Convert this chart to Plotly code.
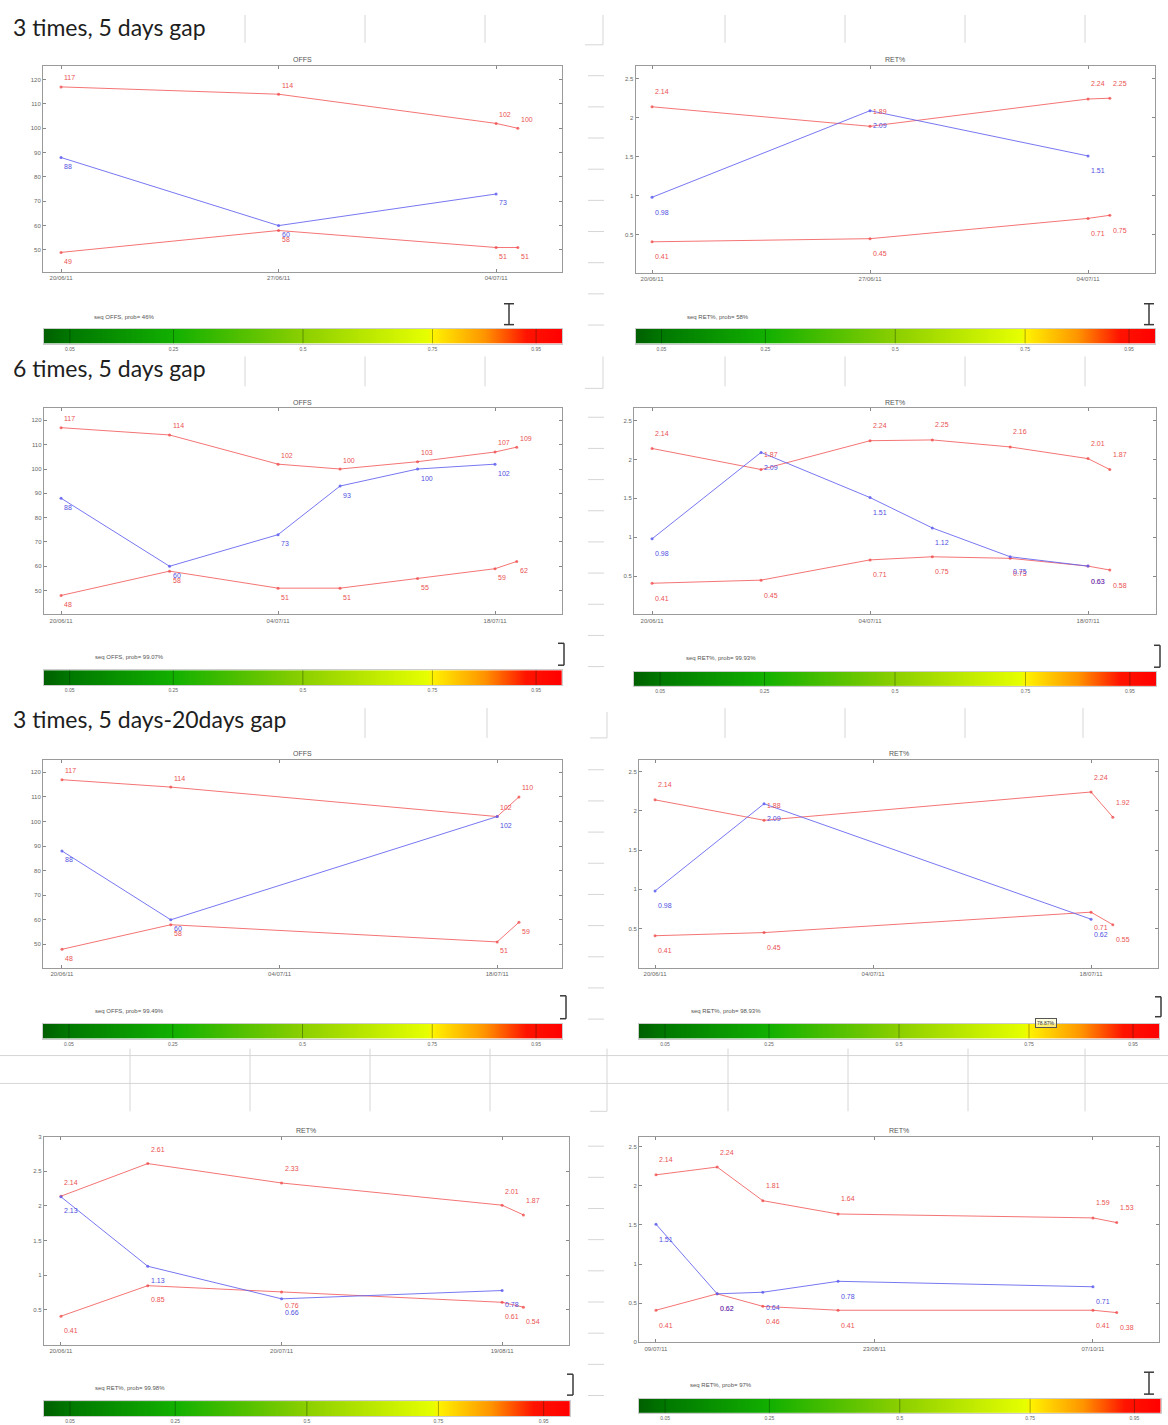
import plotly.graph_objects as go

W, H = 1168, 1425

# ---------------- data ----------------
# Row 1 : 3 times, 5 days gap
r1_days = [0, 7, 14]
r1_pred_days = [0, 7, 14, 14.7]
r1_ticks = [0, 7, 14]
r1_dates = ["20/06/11", "27/06/11", "04/07/11"]
r1_offs_obs = [88, 60, 73]
r1_offs_up = [117, 114, 102, 100]
r1_offs_lo = [49, 58, 51, 51]
r1_ret_obs = [0.98, 2.09, 1.51]
r1_ret_up = [2.14, 1.89, 2.24, 2.25]
r1_ret_lo = [0.41, 0.45, 0.71, 0.75]

# Row 2 : 6 times, 5 days gap
r2_days = [0, 7, 14, 18, 23, 28]
r2_pred_days = [0, 7, 14, 18, 23, 28, 29.4]
r2_ticks = [0, 14, 28]
r2_dates = ["20/06/11", "04/07/11", "18/07/11"]
r2_offs_obs = [88, 60, 73, 93, 100, 102]
r2_offs_up = [117, 114, 102, 100, 103, 107, 109]
r2_offs_lo = [48, 58, 51, 51, 55, 59, 62]
r2_ret_obs = [0.98, 2.09, 1.51, 1.12, 0.75, 0.63]
r2_ret_up = [2.14, 1.87, 2.24, 2.25, 2.16, 2.01, 1.87]
r2_ret_lo = [0.41, 0.45, 0.71, 0.75, 0.73, 0.63, 0.58]

# Row 3 : 3 times, 5 days-20days gap
r3_days = [0, 7, 28]
r3_pred_days = [0, 7, 28, 29.4]
r3_ticks = [0, 14, 28]
r3_dates = ["20/06/11", "04/07/11", "18/07/11"]
r3_offs_obs = [88, 60, 102]
r3_offs_up = [117, 114, 102, 110]
r3_offs_lo = [48, 58, 51, 59]
r3_ret_obs = [0.98, 2.09, 0.62]
r3_ret_up = [2.14, 1.88, 2.24, 1.92]
r3_ret_lo = [0.41, 0.45, 0.71, 0.55]

# Row 4 : RET% only, two sequences
r4a_days = [0, 11.8, 30, 60]
r4a_pred_days = [0, 11.8, 30, 60, 62.9]
r4a_ticks = [0, 30, 60]
r4a_dates = ["20/06/11", "20/07/11", "19/08/11"]
r4a_ret_obs = [2.13, 1.13, 0.66, 0.78]
r4a_ret_up = [2.14, 2.61, 2.33, 2.01, 1.87]
r4a_ret_lo = [0.41, 0.85, 0.76, 0.61, 0.54]

r4b_days = [0, 12.6, 22, 37.5, 90]
r4b_pred_days = [0, 12.6, 22, 37.5, 90, 94.9]
r4b_ticks = [0, 45, 90]
r4b_dates = ["09/07/11", "23/08/11", "07/10/11"]
r4b_ret_obs = [1.51, 0.62, 0.64, 0.78, 0.71]
r4b_ret_up = [2.14, 2.24, 1.81, 1.64, 1.59, 1.53]
r4b_ret_lo = [0.41, 0.62, 0.46, 0.41, 0.41, 0.38]

offs_yticks = [50, 60, 70, 80, 90, 100, 110, 120]
ret_yticks = [0.5, 1, 1.5, 2, 2.5]
ret_yticks_a = [0.5, 1, 1.5, 2, 2.5, 3]
ret_yticks_b = [0, 0.5, 1, 1.5, 2, 2.5]

cbar_ticks = [0.05, 0.25, 0.5, 0.75, 0.95]
cbar_ticktext = ["0.05", "0.25", "0.5", "0.75", "0.95"]
cbar_z = [0, 1]

headings = ["3 times, 5 days gap", "6 times, 5 days gap", "3 times, 5 days-20days gap"]
cbar_labels = ["seq OFFS, prob= 46%", "seq RET%, prob= 58%",
               "seq OFFS, prob= 99.07%", "seq RET%, prob= 99.93%",
               "seq OFFS, prob= 99.49%", "seq RET%, prob= 98.93%",
               "seq RET%, prob= 99.98%", "seq RET%, prob= 97%"]

# ---------------- panel layout (pixels) ----------------
panels = [
    dict(title="OFFS", days=r1_days, pdays=r1_pred_days, obs=r1_offs_obs, up=r1_offs_up, lo=r1_offs_lo,
         xt=r1_ticks, xl=r1_dates, yt=offs_yticks, fmt="{:.0f}", off=9,
         box=(43, 562, 63, 270), xr=[-0.58, 16.12], yr=[41, 125.7],
         cb=(44, 562, 327, 342), cbl=(92, 315), mark=("I", 509, 302, 323)),
    dict(title="RET%", days=r1_days, pdays=r1_pred_days, obs=r1_ret_obs, up=r1_ret_up, lo=r1_ret_lo,
         xt=r1_ticks, xl=r1_dates, yt=ret_yticks, fmt="{:.2f}", off=15,
         box=(635.5, 1155, 63, 270.7), xr=[-0.53, 16.15], yr=[0.016, 2.666],
         cb=(635.5, 1155, 327, 342), cbl=(685, 315), mark=("I", 1149, 302, 323)),
    dict(title="OFFS", days=r2_days, pdays=r2_pred_days, obs=r2_offs_obs, up=r2_offs_up, lo=r2_offs_lo,
         xt=r2_ticks, xl=r2_dates, yt=offs_yticks, fmt="{:.0f}", off=9,
         box=(43.7, 562, 406.7, 614), xr=[-1.12, 32.32], yr=[40.2, 125.1],
         cb=(43.7, 562, 670, 685), cbl=(92.5, 657), mark=("]", 564, 643, 665)),
    dict(title="RET%", days=r2_days, pdays=r2_pred_days, obs=r2_ret_obs, up=r2_ret_up, lo=r2_ret_lo,
         xt=r2_ticks, xl=r2_dates, yt=ret_yticks, fmt="{:.2f}", off=15,
         box=(634, 1155.6, 406.7, 614), xr=[-1.16, 32.34], yr=[0.01, 2.66],
         cb=(634, 1156, 671.7, 686), cbl=(684, 658), mark=("]", 1160, 645, 667)),
    dict(title="OFFS", days=r3_days, pdays=r3_pred_days, obs=r3_offs_obs, up=r3_offs_up, lo=r3_offs_lo,
         xt=r3_ticks, xl=r3_dates, yt=offs_yticks, fmt="{:.0f}", off=9,
         box=(43, 562, 760, 969.3), xr=[-1.22, 32.17], yr=[40.3, 125.1],
         cb=(43, 562, 1025, 1040), cbl=(93, 1012), mark=("]", 566, 997, 1020)),
    dict(title="RET%", days=r3_days, pdays=r3_pred_days, obs=r3_ret_obs, up=r3_ret_up, lo=r3_ret_lo,
         xt=r3_ticks, xl=r3_dates, yt=ret_yticks, fmt="{:.2f}", off=15,
         box=(639, 1158, 760, 969), xr=[-1.03, 32.3], yr=[0, 2.65],
         cb=(639, 1159, 1025, 1040), cbl=(689, 1012), mark=("]", 1161, 998, 1018)),
    dict(title="RET%", days=r4a_days, pdays=r4a_pred_days, obs=r4a_ret_obs, up=r4a_ret_up, lo=r4a_ret_lo,
         xt=r4a_ticks, xl=r4a_dates, yt=ret_yticks_a, fmt="{:.2f}", off=14,
         box=(43.7, 569, 1138.3, 1347.3), xr=[-2.35, 69.1], yr=[0, 3.0],
         cb=(43.7, 570, 1404, 1419), cbl=(92.5, 1391), mark=("]", 573, 1377, 1398)),
    dict(title="RET%", days=r4b_days, pdays=r4b_pred_days, obs=r4b_ret_obs, up=r4b_ret_up, lo=r4b_ret_lo,
         xt=r4b_ticks, xl=r4b_dates, yt=ret_yticks_b, fmt="{:.2f}", off=15,
         box=(639, 1159, 1138.3, 1345), xr=[-3.5, 103.6], yr=[0, 2.63],
         cb=(639, 1160.5, 1401.7, 1416), cbl=(688, 1388), mark=("I", 1149, 1375, 1397)),
]

RED = "rgba(240,70,70,0.75)"
BLUE = "rgba(95,95,240,0.85)"
RED_T = "#ea5252"
BLUE_T = "#5050e0"
SMALL = "Liberation Sans"

CSCALE = [[0.0, "#006000"], [0.05, "#007800"], [0.25, "#12b000"], [0.5, "#8ccf00"],
          [0.74, "#e6ff00"], [0.75, "#fff200"], [0.85, "#ff9400"], [0.93, "#ff1400"], [1.0, "#ff0000"]]


def fx(px):
    return px / W


def fy(py):
    return 1 - py / H


def sfx(i):
    return "" if i == 1 else str(i)


fig = go.Figure()
annotations = []
shapes = []
layout_axes = {}

for k, p in enumerate(panels):
    i = k + 1
    j = k + 9
    xa, ya = "x" + sfx(i), "y" + sfx(i)
    x0, x1, y0, y1 = p["box"]

    # lines
    fig.add_trace(go.Scatter(x=p["pdays"], y=p["up"], xaxis=xa, yaxis=ya, mode="lines+markers",
                             line=dict(color=RED, width=1), marker=dict(size=3, color=RED),
                             hoverinfo="x+y"))
    fig.add_trace(go.Scatter(x=p["pdays"], y=p["lo"], xaxis=xa, yaxis=ya, mode="lines+markers",
                             line=dict(color=RED, width=1), marker=dict(size=3, color=RED),
                             hoverinfo="x+y"))
    fig.add_trace(go.Scatter(x=p["days"], y=p["obs"], xaxis=xa, yaxis=ya, mode="lines+markers",
                             line=dict(color=BLUE, width=1), marker=dict(size=3, color=BLUE),
                             hoverinfo="x+y"))

    # value labels
    for series, days, col, sh in ((p["up"], p["pdays"], RED_T, p["off"]),
                                  (p["lo"], p["pdays"], RED_T, -p["off"]),
                                  (p["obs"], p["days"], BLUE_T, -p["off"])):
        for d, v in zip(days, series):
            annotations.append(dict(x=d, y=v, xref=xa, yref=ya, text=p["fmt"].format(v),
                                    showarrow=False, xanchor="left", yanchor="middle",
                                    xshift=1, yshift=sh, font=dict(size=7, color=col, family=SMALL)))

    layout_axes["xaxis" + sfx(i)] = dict(domain=[fx(x0), fx(x1)], range=p["xr"], anchor=ya,
                                         tickvals=p["xt"], ticktext=p["xl"], ticks="inside", ticklen=3,
                                         tickcolor="#888", showline=True, linecolor="#9a9a9a", mirror="ticks",
                                         showgrid=False, zeroline=False,
                                         tickfont=dict(size=6, color="#666", family=SMALL))
    layout_axes["yaxis" + sfx(i)] = dict(domain=[fy(y1), fy(y0)], range=p["yr"], anchor=xa,
                                         tickvals=p["yt"], ticktext=[("%g" % t) for t in p["yt"]],
                                         ticks="inside", ticklen=3, tickcolor="#888",
                                         showline=True, linecolor="#9a9a9a", mirror="ticks",
                                         showgrid=False, zeroline=False,
                                         tickfont=dict(size=6, color="#666", family=SMALL))

    annotations.append(dict(x=fx((x0 + x1) / 2), y=fy(y0 - 6), xref="paper", yref="paper",
                            text=p["title"], showarrow=False, xanchor="center", yanchor="middle",
                            font=dict(size=7, color="#555", family=SMALL)))

    # colour bar
    cxa, cya = "x" + str(j), "y" + str(j)
    cx0, cx1, cy0, cy1 = p["cb"]
    fig.add_trace(go.Heatmap(z=[cbar_z], x=cbar_z, y=[0], xaxis=cxa, yaxis=cya, colorscale=CSCALE,
                             zmin=0, zmax=1, zsmooth="best", showscale=False, hoverinfo="skip"))
    sx, sy = [], []
    for t in cbar_ticks:
        sx += [t, t, None]
        sy += [-0.5, 0.5, None]
    fig.add_trace(go.Scatter(x=sx, y=sy, xaxis=cxa, yaxis=cya, mode="lines",
                             line=dict(color="rgba(0,30,0,0.35)", width=1), hoverinfo="skip"))
    layout_axes["xaxis" + str(j)] = dict(domain=[fx(cx0), fx(cx1)], range=[0, 1], anchor=cya,
                                         tickvals=cbar_ticks, ticktext=cbar_ticktext, ticks="",
                                         showline=True, linecolor="#cccccc", mirror=True,
                                         showgrid=False, zeroline=False,
                                         tickfont=dict(size=5, color="#666", family=SMALL))
    layout_axes["yaxis" + str(j)] = dict(domain=[fy(cy1), fy(cy0)], range=[-0.5, 0.5], anchor=cxa,
                                         showticklabels=False, ticks="", showline=True,
                                         linecolor="#cccccc", mirror=True, showgrid=False, zeroline=False)
    lx, ly = p["cbl"]
    annotations.append(dict(x=fx(lx), y=fy(ly), xref="paper", yref="paper", text=cbar_labels[k],
                            showarrow=False, xanchor="left", yanchor="middle",
                            font=dict(size=6, color="#555", family=SMALL)))

    # I / ] marker above the colour bar
    kind, mx, my0, my1 = p["mark"]
    mline = dict(color="#3a3a3a", width=1.5)
    if kind == "I":
        shapes.append(dict(type="line", xref="paper", yref="paper", x0=fx(mx), x1=fx(mx),
                           y0=fy(my0), y1=fy(my1), line=mline))
        for yy in (my0, my1):
            shapes.append(dict(type="line", xref="paper", yref="paper", x0=fx(mx - 5), x1=fx(mx + 5),
                               y0=fy(yy), y1=fy(yy), line=mline))
    else:
        shapes.append(dict(type="line", xref="paper", yref="paper", x0=fx(mx), x1=fx(mx),
                           y0=fy(my0), y1=fy(my1), line=mline))
        for yy in (my0, my1):
            shapes.append(dict(type="line", xref="paper", yref="paper", x0=fx(mx - 6), x1=fx(mx),
                               y0=fy(yy), y1=fy(yy), line=mline))

# section headings
for txt, hy in zip(headings, [24, 367, 719]):
    annotations.append(dict(x=fx(11), y=fy(hy), xref="paper", yref="paper", text=txt, showarrow=False,
                            xanchor="left", yanchor="middle", font=dict(size=23, color="#1e1e1e", family="Lato")))

# small tooltip-like box on the 3rd-row RET colour bar
annotations.append(dict(x=fx(1046), y=fy(1024), xref="paper", yref="paper", text="78.87%", showarrow=False,
                        xanchor="center", yanchor="middle", font=dict(size=5, color="#333", family=SMALL),
                        bordercolor="#555", borderwidth=1, borderpad=1, bgcolor="rgba(255,255,200,0.6)"))

# faint spreadsheet grid visible behind the pasted images
GRID = dict(color="#d6d6d6", width=1)


def vline(x, ya, yb):
    shapes.append(dict(type="line", xref="paper", yref="paper", x0=fx(x), x1=fx(x), y0=fy(ya), y1=fy(yb),
                       line=GRID, layer="below"))


def hline(y, xa_, xb_):
    shapes.append(dict(type="line", xref="paper", yref="paper", x0=fx(xa_), x1=fx(xb_), y0=fy(y), y1=fy(y),
                       line=GRID, layer="below"))


for xx in [245, 365, 485, 725, 845, 965, 1085]:
    vline(xx, 12, 40)
    vline(xx, 355, 385)
vline(603, 12, 42); hline(42, 585, 603)
vline(603, 355, 387); hline(387, 585, 603)
for xx in [365, 487, 725, 845, 965, 1083]:
    vline(xx, 708, 738)
vline(607, 712, 738); hline(738, 590, 607)
hline(1057, 0, 1168)
hline(1085, 0, 1168)
for xx in [130, 250, 370, 490, 728, 848, 968, 1085]:
    vline(xx, 1050, 1113)
vline(607, 1050, 1113); hline(1113, 590, 607)
for start in [73, 416, 770, 1148]:
    for n in range(9):
        hline(start + n * 31.3, 588, 604)

fig.update_layout(width=W, height=H, margin=dict(l=0, r=0, t=0, b=0),
                  paper_bgcolor="white", plot_bgcolor="white", showlegend=False,
                  annotations=annotations, shapes=shapes, **layout_axes)

fig.write_html("out.html", config={"displayModeBar": False},
               post_script="document.body.style.margin='0';document.body.style.overflow='hidden';")
